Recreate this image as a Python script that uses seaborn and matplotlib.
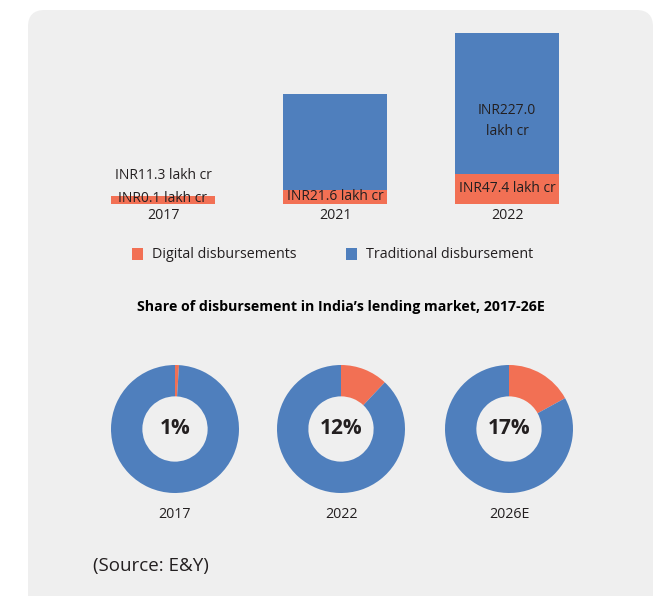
import matplotlib
matplotlib.use("Agg")
import matplotlib.pyplot as plt
import seaborn as sns
import pandas as pd
from matplotlib.patches import FancyBboxPatch, Rectangle

# ---------------- data ----------------
bar_years = ["2017", "2021", "2022"]
digital_drawn = [12.5, 23.0, 48.0]          # drawn heights (lakh cr, as pictured)
traditional_drawn = [0.0, 151.0, 224.0]
digital_labels = ["INR0.1 lakh cr", "INR21.6 lakh cr", "INR47.4 lakh cr"]
traditional_labels = ["INR11.3 lakh cr", "", "INR227.0\nlakh cr"]

donut_years = ["2017", "2022", "2026E"]
digital_share = [1, 12, 17]

series_names = ["Digital disbursements", "Traditional disbursement"]
title = "Share of disbursement in India\u2019s lending market, 2017-26E"
source = "(Source: E&Y)"

ORANGE = "#F27054"
BLUE = "#4F7FBD"
BG = "#EFEFEF"
TXT = "#231F20"

sns.set_style("white")
plt.rcParams["font.family"] = ["Open Sans", "DejaVu Sans"]

W, H = 661, 596
fig = plt.figure(figsize=(W / 100, H / 100), dpi=100)
fig.patch.set_facecolor("white")


def fx(px):
    return px / W


def fy(py):
    return 1 - py / H


# panel
panel = FancyBboxPatch((fx(28), fy(640)), fx(653) - fx(28), fy(10) - fy(640),
                       boxstyle="round,pad=0,rounding_size=0.025",
                       transform=fig.transFigure, facecolor=BG, edgecolor="none",
                       zorder=0, mutation_aspect=W / H)
fig.add_artist(panel)

# ---------------- stacked bars ----------------
px_per_unit = 0.63
base_px = 204
top_px = 20
ymax = (base_px - top_px) / px_per_unit
ax = fig.add_axes([fx(77), fy(base_px), fx(593) - fx(77), (base_px - top_px) / H])
ax.set_facecolor("none")

df = pd.DataFrame({"year": bar_years,
                   "digital": digital_drawn,
                   "total": [d + t for d, t in zip(digital_drawn, traditional_drawn)]})
sns.barplot(data=df, x="year", y="total", color=BLUE, saturation=1, width=0.6,
            ax=ax, linewidth=0)
sns.barplot(data=df, x="year", y="digital", color=ORANGE, saturation=1, width=0.6,
            ax=ax, linewidth=0)
ax.set_xlim(-0.5, 2.5)
ax.set_ylim(0, ymax)
ax.set_xlabel("")
ax.set_ylabel("")
ax.set_yticks([])
ax.tick_params(axis="x", length=0, pad=3, labelsize=10.2, labelcolor=TXT)
for s in ax.spines.values():
    s.set_visible(False)

lab_fs = 10
for i in range(3):
    d = digital_drawn[i]
    ax.text(i, d / 2 + (2.5 if i == 0 else 0), digital_labels[i], ha="center",
            va="center", fontsize=lab_fs, color=TXT)
ax.text(0, (base_px - 175) / px_per_unit, traditional_labels[0],
        ha="center", va="center", fontsize=lab_fs, color=TXT)
ax.text(2, (base_px - 121) / px_per_unit, traditional_labels[2],
        ha="center", va="center", fontsize=lab_fs, color=TXT, linespacing=1.5)

# legend
for (x0, tx, col, name) in [(132, 152, ORANGE, series_names[0]),
                            (346, 366, BLUE, series_names[1])]:
    fig.add_artist(Rectangle((fx(x0), fy(260)), fx(11), 12 / H,
                             transform=fig.transFigure, facecolor=col,
                             edgecolor="none"))
    fig.text(fx(tx), fy(254), name, ha="left", va="center", fontsize=10.3, color=TXT)

# title
fig.text(fx(341), fy(307), title, ha="center", va="center", fontsize=10.2,
         fontweight="bold", color="black")

# ---------------- donuts ----------------
R = 64
for cx, share, yr in zip([175, 341, 509], digital_share, donut_years):
    dax = fig.add_axes([fx(cx - R), fy(429 + R), 2 * R / W, 2 * R / H])
    dax.pie([share, 100 - share], colors=[ORANGE, BLUE], startangle=90,
            counterclock=False, radius=1,
            wedgeprops=dict(width=0.49, edgecolor="none"))
    dax.set_aspect("equal")
    dax.set_xlim(-1, 1)
    dax.set_ylim(-1, 1)
    dax.text(0, 0, f"{share}%", ha="center", va="center", fontsize=15,
             fontweight="bold", color=TXT)
    fig.text(fx(cx), fy(515), yr, ha="center", va="center", fontsize=10.3, color=TXT)

fig.text(fx(93), fy(566), source, ha="left", va="center", fontsize=13.5, color=TXT)

fig.savefig("out.png", dpi=100, facecolor="white")
